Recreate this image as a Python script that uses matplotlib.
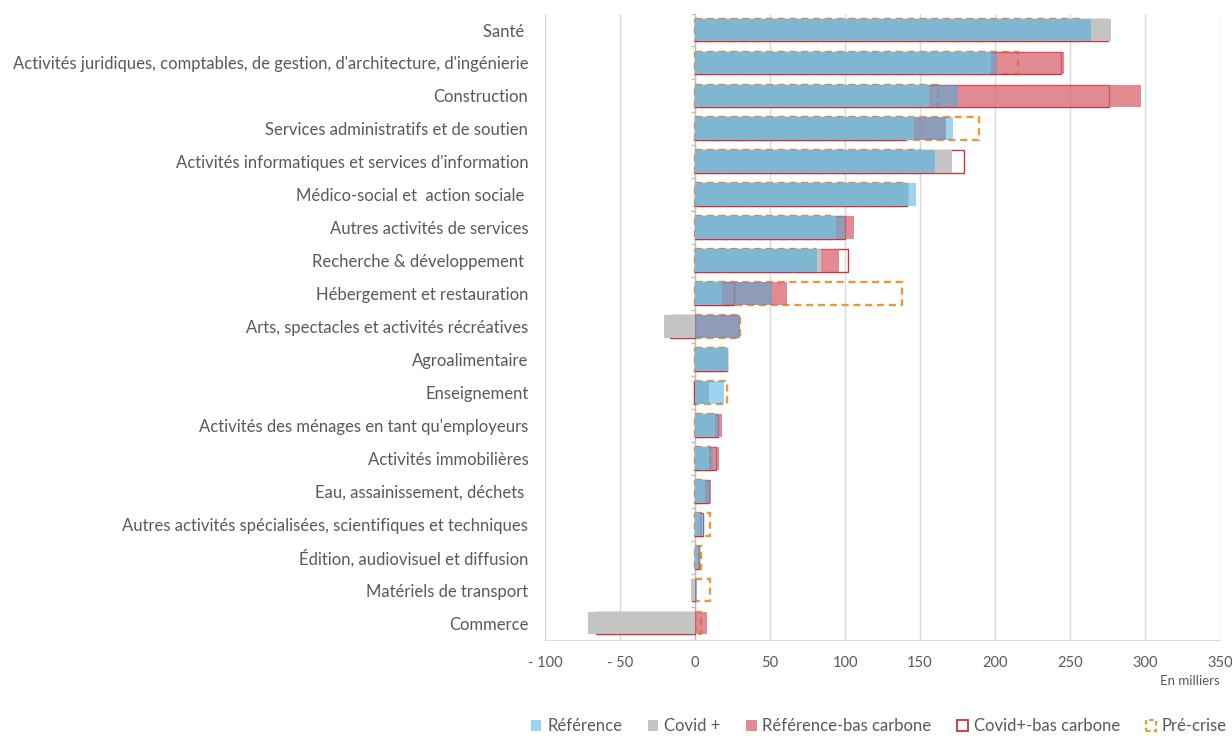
import numpy as np
import matplotlib.pyplot as plt
from matplotlib.patches import Patch

plt.rcParams['font.family'] = ['Lato', 'DejaVu Sans']

categories = ["Santé ",
              "Activités juridiques, comptables, de gestion, d'architecture, d'ingénierie",
              "Construction",
              "Services administratifs et de soutien",
              "Activités informatiques et services d'information",
              "Médico-social et  action sociale ",
              "Autres activités de services",
              "Recherche & développement ",
              "Hébergement et restauration",
              "Arts, spectacles et activités récréatives",
              "Agroalimentaire",
              "Enseignement",
              "Activités des ménages en tant qu'employeurs",
              "Activités immobilières",
              "Eau, assainissement, déchets ",
              "Autres activités spécialisées, scientifiques et techniques",
              "Édition, audiovisuel et diffusion",
              "Matériels de transport",
              "Commerce"]

# en milliers d'emplois
reference = [264, 201, 175, 172, 160, 147, 100, 81, 51, 30, 22, 19.5, 16, 12, 10, 6, 3, 1, 0]
covid = [277, 197, 156, 146, 171, 142, 94, 84, 18, -21, 22, 9.5, 13.5, 9.5, 6.5, 3.5, 2, -2.5, -71.5]
ref_bas_carbone = [262, 246, 297, 167, 158, 140, 106, 96, 61, 30, 21, 5, 18, 16, 10.5, 4.5, 3, 0.5, 7.8]
covid_bas_carbone = [275, 244, 276, 140, 179, 141, 100, 102, 26, -17, 21, -0.5, 15, 14, 9, 5, 2.5, -2, -66]
pre_crise = [258, 215, 162, 189, 150, 138, 90, 80, 138, 30, 21, 21, 12, 10, 6, 10, 4, 10, 4]

xticks = [-100, -50, 0, 50, 100, 150, 200, 250, 300, 350]
xtick_labels = ["- 100", "- 50", "0", "50", "100", "150", "200", "250", "300", "350"]

txt = '#595959'
c_ref = '#3BABE1'
c_covid = '#C4C4C4'
c_refbc = '#D9646E'
c_covbc = '#C8333D'
c_pre = '#E69A3C'
h = 0.69

fig = plt.figure(figsize=(12.32, 7.36), dpi=100)
ax = fig.add_axes([0.4424, 0.1311, 0.5479, 0.8505])

y = np.arange(len(categories))

# outlines first (behind the fills, like in the original)
ax.barh(y, pre_crise, height=h, fill=False, edgecolor=c_pre, linewidth=1.7,
        linestyle=(0, (3, 2)), zorder=2)
ax.barh(y, covid_bas_carbone, height=h, fill=False, edgecolor=c_covbc, linewidth=1.0, zorder=2.5)
ax.barh(y, ref_bas_carbone, height=h, color=c_refbc, alpha=0.75, linewidth=0, zorder=3)
ax.barh(y, covid, height=h, color=c_covid, linewidth=0, zorder=4)
ax.barh(y, reference, height=h, color=c_ref, alpha=0.5, linewidth=0, zorder=5)

ax.set_xlim(-100, 350)
ax.set_ylim(len(categories) - 0.5, -0.5)

ax.set_xticks(xticks)
ax.set_xticklabels(xtick_labels)
ax.set_yticks(y)
ax.set_yticklabels(categories)
ax.tick_params(axis='x', length=0, pad=12, labelsize=10.5, labelcolor=txt)
ax.tick_params(axis='y', length=0, pad=12, labelsize=12, labelcolor=txt)

ax.grid(axis='x', color='#D9D9D9', linewidth=1, zorder=0)
ax.set_axisbelow(True)
for s in ['top', 'right', 'left']:
    ax.spines[s].set_visible(False)
ax.spines['bottom'].set_color('#D9D9D9')

# vertical axis at zero with category tick marks
ax.axvline(0, color='#BFBFBF', linewidth=1, zorder=1)
ax.hlines(np.arange(len(categories) + 1) - 0.5, -3, 0, color='#BFBFBF', linewidth=1, zorder=1)

ax.text(1.0, -0.066, 'En milliers', transform=ax.transAxes, ha='right', va='center',
        fontsize=9.5, color=txt)

handles = [Patch(facecolor=c_ref, alpha=0.5, edgecolor='none', label='Référence'),
           Patch(facecolor=c_covid, edgecolor='none', label='Covid +'),
           Patch(facecolor=c_refbc, alpha=0.75, edgecolor='none', label='Référence-bas carbone'),
           Patch(facecolor='none', edgecolor=c_covbc, linewidth=1.3, label='Covid+-bas carbone'),
           Patch(facecolor='none', edgecolor=c_pre, linewidth=1.6, linestyle=(0, (2, 1.5)),
                 label='Pré-crise')]
fig.legend(handles=handles, loc='lower right', bbox_to_anchor=(1.008, -0.018), ncol=5,
           frameon=False, fontsize=12, labelcolor=txt, handlelength=0.62, handleheight=0.62,
           handletextpad=0.35, columnspacing=1.55)

fig.savefig('out.png', dpi=100)
